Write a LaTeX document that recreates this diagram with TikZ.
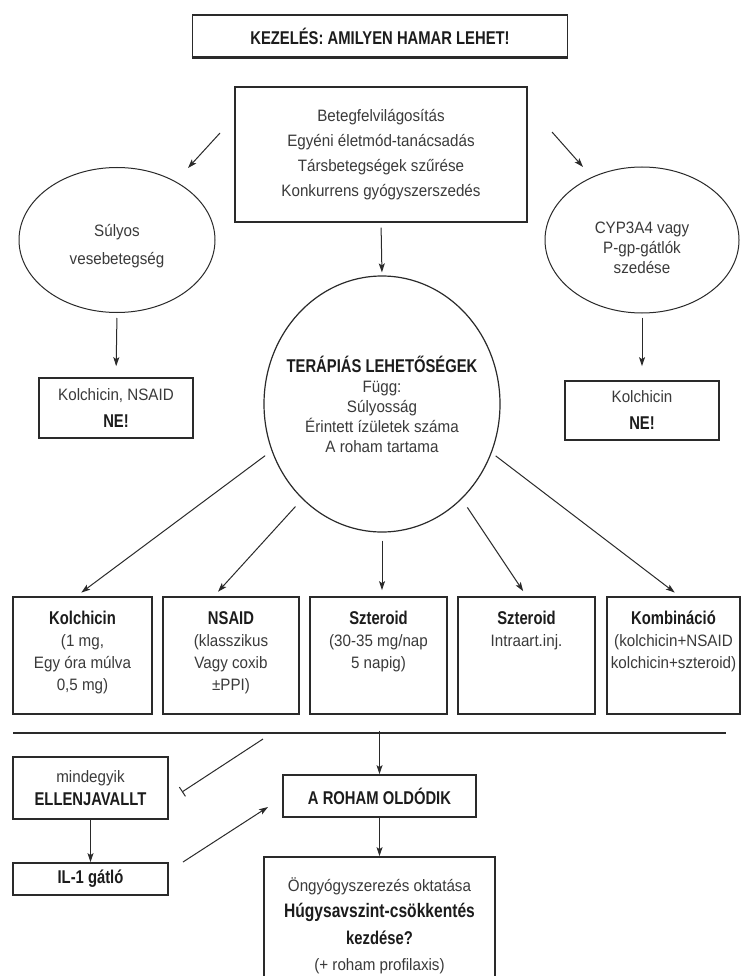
\documentclass[tikz,border=0pt]{standalone}
\usepackage{fontspec}
\setmainfont{Liberation Sans}[UprightFeatures={FakeStretch=0.92},BoldFeatures={FakeStretch=0.8}]
\usetikzlibrary{shapes.geometric,arrows.meta}
\definecolor{ink}{HTML}{2A2A2A}
\definecolor{txt}{HTML}{3A3A3A}
\definecolor{bld}{HTML}{1C1C1C}
\newcommand{\hb}[1]{{\fontsize{18.5}{20}\selectfont\bfseries\color{bld}#1}}

\begin{document}
\begin{tikzpicture}[x=1pt,y=-1pt,
  every node/.style={text=txt,inner sep=0pt},
  frame/.style={draw=ink,line width=1.7pt,align=center},
  oval/.style={draw=ink,line width=1pt,ellipse},
  words/.style={align=center,font=\fontsize{16.5}{#1}\selectfont},
  words/.default=22,
  arr/.style={draw=ink,line width=1pt,-{Stealth[length=9pt,width=6pt,inset=2pt]}}
]
\useasboundingbox[fill=white] (0,0) rectangle (741,976);
\clip (0,0) rectangle (741,976);

% heading
\node[frame,minimum width=375pt,minimum height=42pt] (title) at (380,36)
  {\hb{KEZELÉS: AMILYEN HAMAR LEHET!}};
\draw[ink,line width=3pt] (title.south west) -- (title.south east);

% general measures
\node[frame,line width=1.3pt,minimum width=292pt,minimum height=135pt,words=25] (info) at (381,154.5)
  {Betegfelvilágosítás\\Egyéni életmód-tanácsadás\\Társbetegségek szűrése\\Konkurrens gyógyszerszedés};

% contraindication branches
\node[oval,minimum width=196pt,minimum height=145pt] (renal) at (117,240) {};
\node[words=28] (renalt) at (117,246) {Súlyos\\vesebetegség};
\node[oval,minimum width=194pt,minimum height=146pt] (cyp) at (642,240) {};
\node[words=20] (cypt) at (642,248) {CYP3A4 vagy\\P-gp-gátlók\\szedése};

\coordinate (l-from) at (220,133);
\coordinate (l-to) at (188,168);
\coordinate (r-from) at (552,132);
\coordinate (r-to) at (583,167);
\draw[arr] (l-from) -- (l-to);
\draw[arr] (r-from) -- (r-to);

\node[frame,minimum width=154pt,minimum height=60pt,words=27] (nsaidno) at (116,408)
  {Kolchicin, NSAID\\\hb{NE!}};
\node[frame,minimum width=154pt,minimum height=59pt,words=27] (colchno) at (642,410.5)
  {Kolchicin\\\hb{NE!}};
\draw[arr,shorten <=5pt,shorten >=11pt] (renal.south) -- (nsaidno.north);
\draw[arr,shorten <=4pt,shorten >=14pt] (cyp.south) -- (colchno.north);

% therapeutic options
\node[oval,line width=1.2pt,minimum width=236pt,minimum height=256pt] (opts) at (382,404) {};
\node[words=20] (optst) at (382,404)
  {\hb{TERÁPIÁS LEHETŐSÉGEK}\\Függ:\\Súlyosság\\Érintett ízületek száma\\A roham tartama};
\draw[arr,shorten <=5pt,shorten >=3pt] (info.south) -- (opts.north);

% treatment boxes
\node[frame,minimum width=139pt,minimum height=117pt] (kol) at (82.5,655.5) {};
\node[words,anchor=north] (kolt) at ([yshift=-15pt]kol.north)
  {\hb{Kolchicin}\\(1 mg,\\Egy óra múlva\\0,5 mg)};
\node[frame,minimum width=136pt,minimum height=117pt] (nsaid) at (231,655.5) {};
\node[words,anchor=north] (nsaidt) at ([yshift=-15pt]nsaid.north)
  {\hb{NSAID}\\(klasszikus\\Vagy coxib\\±PPI)};
\node[frame,minimum width=137pt,minimum height=117pt] (ster) at (378.5,655.5) {};
\node[words,anchor=north] (stert) at ([yshift=-15pt]ster.north)
  {\hb{Szteroid}\\(30-35 mg/nap\\5 napig)};
\node[frame,minimum width=137pt,minimum height=117pt] (inj) at (526.5,655.5) {};
\node[words,anchor=north] (injt) at ([yshift=-15pt]inj.north)
  {\hb{Szteroid}\\Intraart.inj.};
\node[frame,minimum width=133pt,minimum height=117pt] (combo) at (673.5,655.5) {};
\node[words,anchor=north] (combot) at ([yshift=-15pt]combo.north)
  {\hb{Kombináció}\\(kolchicin+NSAID\\kolchicin+szteroid)};

\draw[arr,shorten <=8pt,shorten >=6pt] (opts.203) -- ([xshift=-6pt]kol.north);
\draw[arr,shorten <=10pt,shorten >=6pt] (opts.230) -- ([xshift=-17pt]nsaid.north);
\draw[arr,shorten <=8pt,shorten >=6pt] (opts.south) -- (opts.south |- ster.north);
\draw[arr,shorten <=10pt,shorten >=6pt] (opts.310) -- (inj.north);
\draw[arr,shorten <=5pt,shorten >=6pt] (opts.336) -- ([xshift=6pt]combo.north);

% dividing rule
\coordinate (rule-l) at (13,733);
\coordinate (rule-r) at (726,733);
\coordinate (rule-m) at (379.5,731);
\draw[ink,line width=1.3pt] (rule-l) -- (rule-r);

% outcome
\node[frame,minimum width=193pt,minimum height=42pt] (roham) at (379.5,796) {\hb{A ROHAM OLDÓDIK}};
\draw[arr] (rule-m) -- (roham.north);

\node[frame,minimum width=231pt,minimum height=150pt] (edu) at (379.5,932) {};
\node[words=26.5,anchor=north] (edut) at ([yshift=-21pt]edu.north)
  {Öngyógyszerezés oktatása\\{\fontsize{19.5}{20}\selectfont\bfseries\color{bld}Húgysavszint-csökkentés}\\\hb{kezdése?}\\(+ roham profilaxis)};
\draw[arr] (roham.south) -- (edu.north);

% contraindicated path
\node[frame,minimum width=155pt,minimum height=62pt,words=23] (contra) at (90.5,788)
  {mindegyik\\\hb{ELLENJAVALLT}};
\node[frame,minimum width=155pt,minimum height=32pt] (il1) at (90.5,879) {\hb{IL-1 gátló}};
\draw[arr] (contra.south) -- (il1.north);

\coordinate (block-from) at (263,739);
\coordinate (block-to) at (182,792);
\draw[ink,line width=1pt,-{Bar[width=11pt]}] (block-from) -- (block-to);

\coordinate (il-go) at (183,862);
\coordinate (il-hit) at (268,807);
\draw[arr] (il-go) -- (il-hit);
\end{tikzpicture}
\end{document}
